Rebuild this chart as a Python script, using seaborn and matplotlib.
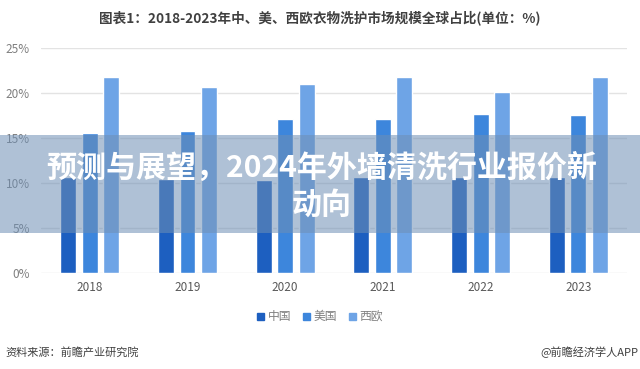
import pandas as pd
import seaborn as sns
import matplotlib.pyplot as plt
from matplotlib.patches import Rectangle

years = ["2018", "2019", "2020", "2021", "2022", "2023"]
china = [10.7, 10.4, 10.3, 10.7, 10.7, 10.7]
usa = [15.6, 15.8, 17.1, 17.1, 17.7, 17.6]
w_europe = [21.8, 20.7, 21.0, 21.8, 20.1, 21.8]
series = ["中国", "美国", "西欧"]
y_ticks = [0, 5, 10, 15, 20, 25]

df = pd.DataFrame({
    "year": years * 3,
    "share": china + usa + w_europe,
    "region": [series[0]] * 6 + [series[1]] * 6 + [series[2]] * 6,
})

sns.set_theme(style="white")
plt.rcParams['font.family'] = ['Noto Sans CJK SC', 'DejaVu Sans']

fig = plt.figure(figsize=(6.4, 3.69), dpi=100)
ax = fig.add_axes([0.064, 0.260, 0.916, 0.610])

colors = ["#1d5fc0", "#3d86dc", "#6ea4e6"]
sns.barplot(data=df, x="year", y="share", hue="region", palette=colors,
            saturation=1, width=0.66, gap=0.26, ax=ax, legend=False, zorder=3)

ax.set_ylim(0, 25)
ax.set_xlim(-0.5, 5.5)
ax.set_yticks(y_ticks)
ax.set_yticklabels([f"{t}%" for t in y_ticks], color="#7f7f7f", fontsize=8.5)
ax.tick_params(axis="x", colors="#595959", labelsize=8.5, length=0, pad=6)
ax.tick_params(axis="y", length=0, pad=8)
ax.yaxis.grid(True, color="#e3e3e3", linewidth=1, zorder=0)
ax.set_axisbelow(True)
for s in ax.spines.values():
    s.set_visible(False)
ax.set_xlabel("")
ax.set_ylabel("")

# legend
handles = [Rectangle((0, 0), 1, 1, color=c) for c in colors]
fig.legend(handles, series, loc="center", bbox_to_anchor=(0.5, 0.141), ncol=3,
           frameon=False, fontsize=8.5, handlelength=0.6, handleheight=0.6,
           handletextpad=0.3, columnspacing=1.0, labelcolor="#7f7f7f")

fig.text(0.5, 0.953, "图表1：2018-2023年中、美、西欧衣物洗护市场规模全球占比(单位：%)",
         ha="center", va="center", fontsize=9.8, fontweight="bold", color="#404040")
fig.text(0.008, 0.046, "资料来源：前瞻产业研究院", ha="left", va="center",
         fontsize=8, color="#404040")
fig.text(0.997, 0.046, "@前瞻经济学人APP", ha="right", va="center",
         fontsize=8, color="#404040")

# overlay banner
fig.add_artist(Rectangle((0, 0.3686), 1, 0.2656, transform=fig.transFigure,
                         facecolor="#6e8fb5", alpha=0.55, edgecolor="none", zorder=5))
fig.text(0.502, 0.545, "预测与展望，2024年外墙清洗行业报价新", ha="center", va="center",
         fontsize=21.6, fontweight="bold", color="white", zorder=6)
fig.text(0.502, 0.444, "动向", ha="center", va="center",
         fontsize=21.6, fontweight="bold", color="white", zorder=6)

plt.savefig("out.png", dpi=100)
